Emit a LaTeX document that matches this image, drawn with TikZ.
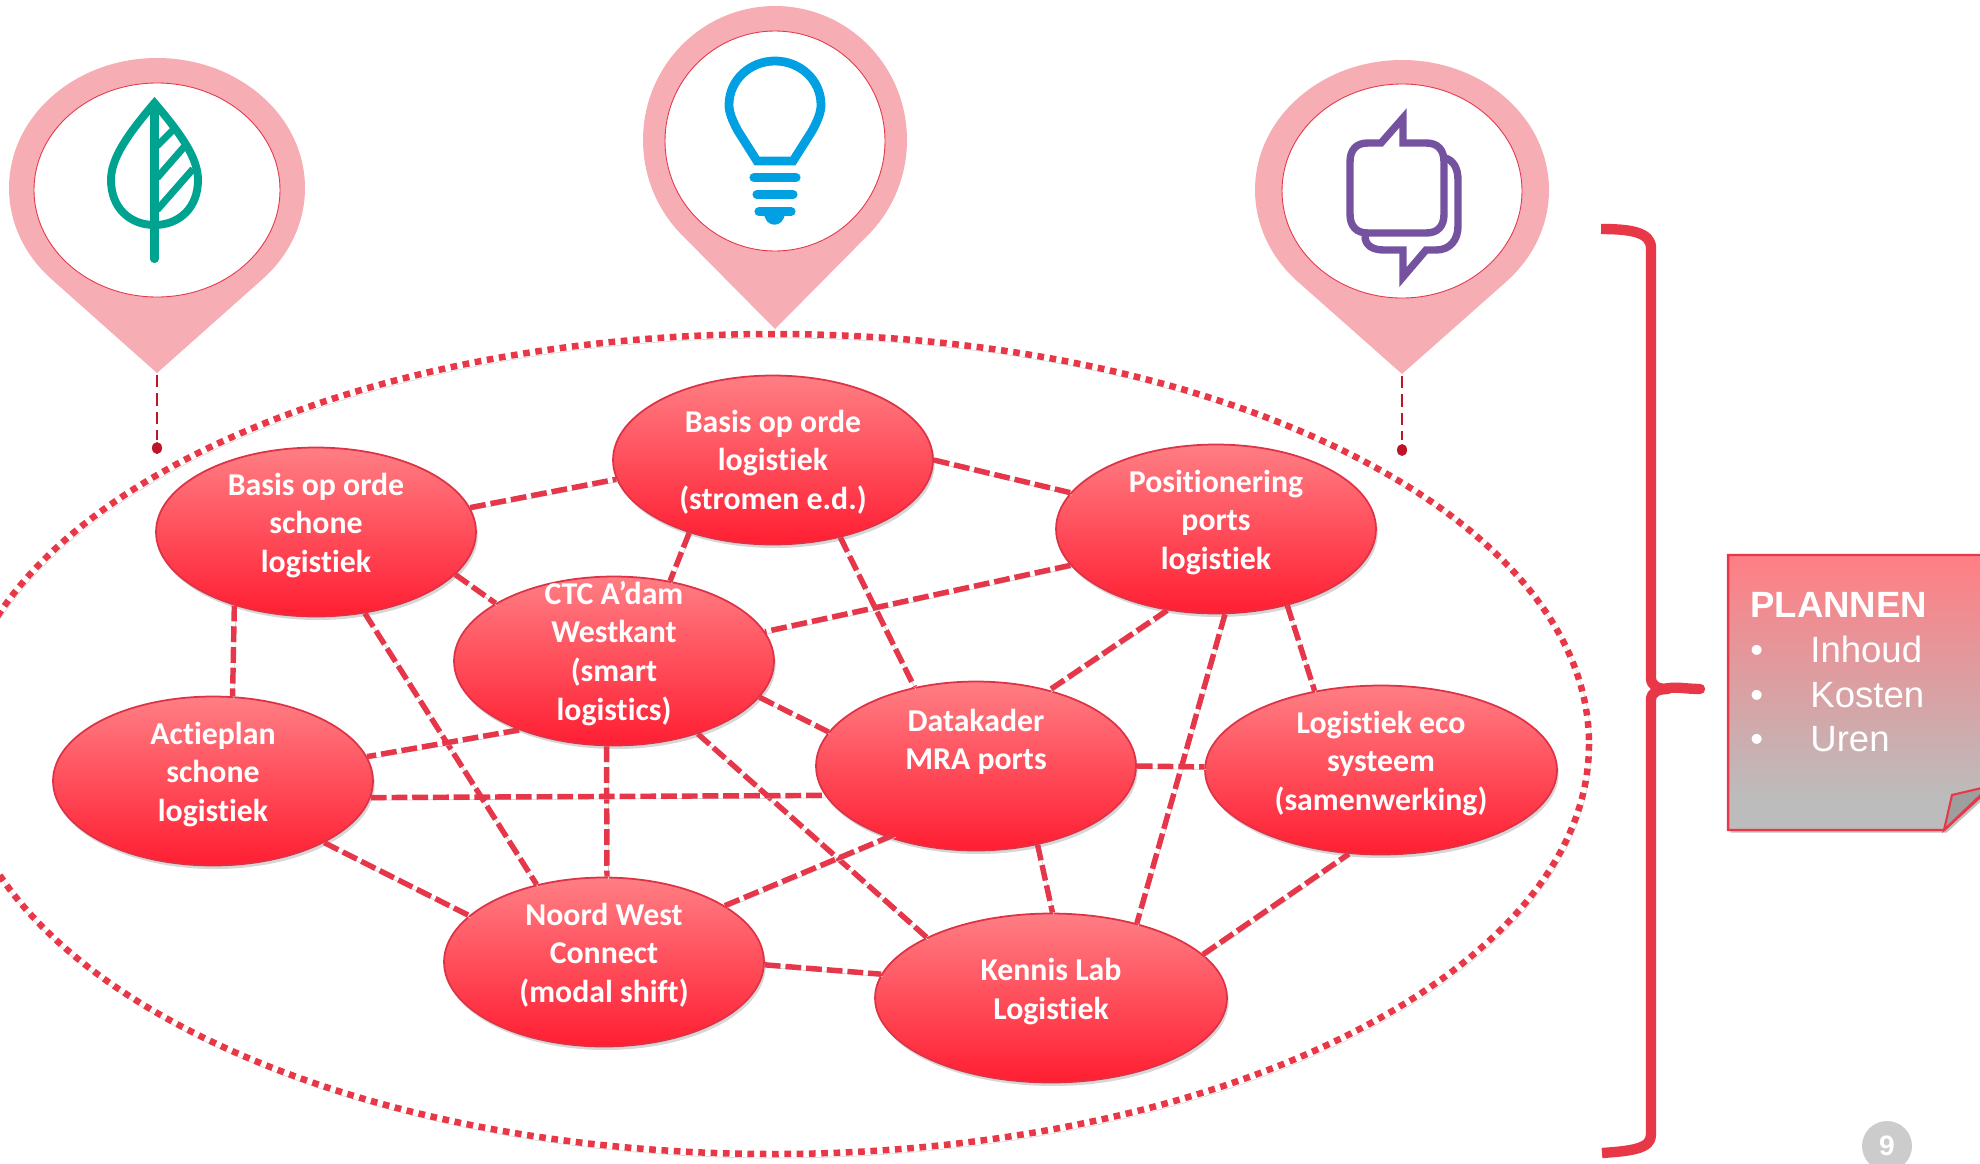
\documentclass[tikz,border=0pt]{standalone}
\usepackage{fontspec}
\setmainfont{Carlito}[Ligatures=NoCommon]
\newfontfamily\boxfont{Liberation Sans}
\usetikzlibrary{shapes.geometric,shadows,calc}
\definecolor{redline}{RGB}{230,54,74}
\definecolor{brace}{RGB}{232,56,72}
\definecolor{pinpink}{RGB}{246,174,180}
\definecolor{elltop}{RGB}{255,126,132}
\definecolor{ellbot}{RGB}{255,30,50}
\definecolor{ellrim}{RGB}{222,50,70}
\definecolor{teal}{RGB}{0,163,143}
\definecolor{bulb}{RGB}{0,160,227}
\definecolor{purp}{RGB}{117,82,160}
\definecolor{darkred}{RGB}{190,20,40}
\definecolor{notegray}{RGB}{188,188,188}
\pgfdeclareverticalshading{notefade}{100bp}{color(0bp)=(notegray); color(31bp)=(notegray); color(75bp)=(elltop); color(100bp)=(elltop)}
\newcommand{\etext}[2]{\smash{\raisebox{\dimexpr #1-6pt\relax}{\begin{tabular}{@{}c@{}}#2\end{tabular}}}}
\newcommand{\pinshape}[6]{%
  \fill[pinpink] (#5,#6) -- ($(#1,#2)+(135:#3 and #4)$) arc[start angle=135,end angle=405,x radius=#3,y radius=#4] -- cycle;}
\tikzset{
  x=0.02cm,y=-0.02cm,
  ell/.style={ellipse,inner sep=0pt,minimum width=6.4cm,minimum height=3.38cm,draw=ellrim,line width=1pt,
    top color=elltop,bottom color=ellbot,text=white,
    font=\fontsize{18.1}{22}\selectfont\bfseries,
    drop shadow={shadow xshift=1pt,shadow yshift=-2pt,opacity=0.16,fill=black}},
  wide/.style={minimum width=7.04cm},
  link/.style={draw=redline,line width=3.1pt,dash pattern=on 9pt off 2.8pt,
    preaction={draw=black!18,transform canvas={shift={(1.5,2.5)}}}},
  ringline/.style={draw=brace,line width=3.7pt,dash pattern=on 3.8pt off 3.2pt,
    preaction={draw=black!14,transform canvas={shift={(2,4)}}}},
  inner/.style={fill=white,draw=redline,line width=0.5pt},
  stalk/.style={draw=darkred,line width=1.5pt,dash pattern=on 7pt off 3.4pt},
  bracepath/.style={draw=brace,line width=5.9pt,line join=round,
    preaction={draw=black!18,transform canvas={shift={(2,3)}}}},
  boxtext/.style={anchor=base west,inner sep=0pt,text=white,font=\boxfont\fontsize{20.8}{25}\selectfont},
}
\begin{document}
\begin{tikzpicture}
\useasboundingbox (0,0) rectangle (1980,1163);
\clip (0,0) rectangle (1980,1163);
% outer dotted ellipse
\path[ringline] (773,744) ellipse [x radius=816,y radius=410];
% pins
\pinshape{157}{188}{148}{130}{157}{373}
\pinshape{775}{140}{132}{134}{775}{329}
\pinshape{1402}{190}{147}{130}{1402}{374}
\draw[inner] (157,190) ellipse [x radius=123,y radius=107];
\draw[inner] (775,141) ellipse [x radius=110,y radius=110];
\draw[inner] (1402,191) ellipse [x radius=120,y radius=107];
% stalks
\coordinate (tipa) at (157,375);
\coordinate (tipc) at (1402,376);
\fill[darkred] (157,448) ellipse [x radius=5,y radius=6];
\fill[darkred] (1402,450) ellipse [x radius=5,y radius=6];
\coordinate (dota) at (157,440);
\coordinate (dotc) at (1402,440);
\path[stalk] (tipa) -- (dota);
\path[stalk] (tipc) -- (dotc);
% leaf icon
\begin{scope}[draw=teal,line width=4.5pt,miter limit=12]
\draw (154.5,103) .. controls (128,134) and (111,158) .. (111,180) .. controls (111,208) and (130,225) .. (154.5,225)
  .. controls (179,225) and (198,208) .. (198,180) .. controls (198,158) and (181,134) .. (154.5,103) -- cycle;
\draw[line cap=round,line width=4.6pt] (154.5,104) -- (154.5,259);
\draw[line width=4pt] (157,146) -- (173,130);
\draw[line width=4pt] (157,178) -- (184,147);
\draw[line width=4pt] (157,210) -- (193,169);
\end{scope}
% bulb icon
\begin{scope}[draw=bulb,line width=5pt]
\draw (757,161) -- (738,131) .. controls (732,120) and (729,112) .. (729,105)
  .. controls (729,80) and (750,61) .. (775,61) .. controls (800,61) and (821,80) .. (821,105)
  .. controls (821,112) and (818,120) .. (812,131) -- (793,161) -- cycle;
\draw[line cap=round,line width=5.2pt] (754,177.5) -- (796,177.5);
\draw[line cap=round,line width=5.2pt] (757,194.5) -- (793,194.5);
\draw[line cap=round,line width=5.2pt] (759,211.5) -- (791,211.5);
\fill[bulb] (764,212) .. controls (764,229) and (785,229) .. (785,212) -- cycle;
\end{scope}
% speech bubbles icon
\begin{scope}[draw=purp,line width=4.2pt,miter limit=12]
\draw (1445,158) .. controls (1453,160) and (1458,168) .. (1458,180) -- (1458,226) .. controls (1458,240) and (1450,250) .. (1436,250)
  -- (1426,250) -- (1403,277) -- (1403,250) -- (1384,250) .. controls (1372,250) and (1365,245) .. (1365,236);
\draw (1403,143) -- (1403,118) -- (1381,143) -- (1368,143) .. controls (1356,143) and (1350,150) .. (1350,162)
  -- (1350,214) .. controls (1350,226) and (1356,233) .. (1368,233) -- (1426,233)
  .. controls (1438,233) and (1444,226) .. (1444,214) -- (1444,162) .. controls (1444,150) and (1438,143) .. (1426,143) -- cycle;
\end{scope}
% brace
\path[bracepath] (1601,229) .. controls (1630,229) and (1651,232) .. (1651,248) -- (1651,678)
  .. controls (1651,686) and (1658,689) .. (1668,689) .. controls (1658,689) and (1651,692) .. (1651,700)
  -- (1651,1135) .. controls (1651,1149) and (1630,1151) .. (1602,1153);
\path[bracepath,line cap=round] (1664,689) .. controls (1675,686) and (1685,689) .. (1700,689);
% nodes
\node[ell] (S) at (316,532) {\etext{5pt}{Basis op orde\\schone\\logistiek}};
\node[ell] (L) at (773,460) {\etext{0pt}{Basis op orde\\logistiek\\(stromen e.d.)}};
\node[ell] (P) at (1216,529) {\etext{5pt}{Positionering\\ports\\logistiek}};
\node[ell] (C) at (614,661) {\etext{5.5pt}{CTC A’dam\\Westkant\\(smart\\logistics)}};
\node[ell] (A) at (213,781) {\etext{5pt}{Actieplan\\schone\\logistiek}};
\node[ell] (D) at (976,766) {\etext{15pt}{Datakader\\MRA ports}};
\node[ell,wide] (E) at (1381,770) {\etext{5pt}{Logistiek eco\\systeem\\(samenwerking)}};
\node[ell] (N) at (604,962) {\etext{5pt}{Noord West\\Connect\\(modal shift)}};
\node[ell,wide] (K) at (1051,998) {\etext{5pt}{Kennis Lab\\Logistiek}};
% connectors
\path[link] (S.9.8) -- (L.187.2);
\path[link] (L.-0.4) -- (P.166.8);
\path[link] (L.221.7) -- (C.55.9);
\path[link] (L.-49.3) -- (D.128.1);
\path[link] (P.194.6) -- (C.11.9);
\path[link] (P.239.3) -- (D.46.5);
\path[link] (P.-47.4) -- (E.130.4);
\path[link] (P.-84.1) -- (K.41.8);
\path[link] (S.-17.2) -- (C.154.9);
\path[link] (S.222.2) -- (A.77);
\path[link] (S.-59.7) -- (N.131.3);
\path[link] (C.216.6) -- (A.9.4);
\path[link] (C.-14.3) -- (D.167.5);
\path[link] (C.265) -- (N.88.3);
\path[link] (C.-41.4) -- (K.154.1);
\path[link] (A.-6.7) -- (D.191.3);
\path[link] (A.-29) -- (N.161.7);
\path[link,shorten >=-4pt] (N.25.6) -- (D.219.5);
\path[link] (N.-1.8) -- (K.172.7);
\path[link] (D.-52.7) -- (K.89);
\path[link] (D.0) -- (E.179);
\path[link] (K.16.3) -- (E.249.2);
% note
\path[draw=brace,line width=1.4pt,shading=notefade,
  drop shadow={shadow xshift=1.5pt,shadow yshift=-1.5pt,opacity=0.25,fill=black}]
  (1728,555) -- (1990,555) -- (1990,788) -- (1944,830) -- (1728,830) -- cycle;
\path[draw=brace,line width=1.2pt,fill=black!38] (1944,830) -- (1952,795) -- (1990,786) -- cycle;
\node[boxtext,font=\boxfont\bfseries\fontsize{20.8}{25}\selectfont] (plan) at (1750,617.5) {PLANNEN};
\node[boxtext] (b1) at (1750,662) {•};
\node[boxtext] (t1) at (1810,662) {Inhoud};
\node[boxtext] (b2) at (1750,707) {•};
\node[boxtext] (t2) at (1810,707) {Kosten};
\node[boxtext] (b3) at (1750,751.5) {•};
\node[boxtext] (t3) at (1810,751.5) {Uren};
% page number
\node[circle,fill=black!20,minimum size=1cm,inner sep=0pt,text=white,font=\boxfont\bfseries\fontsize{16}{18}\selectfont] (pg) at (1887,1146) {9};
\end{tikzpicture}
\end{document}
